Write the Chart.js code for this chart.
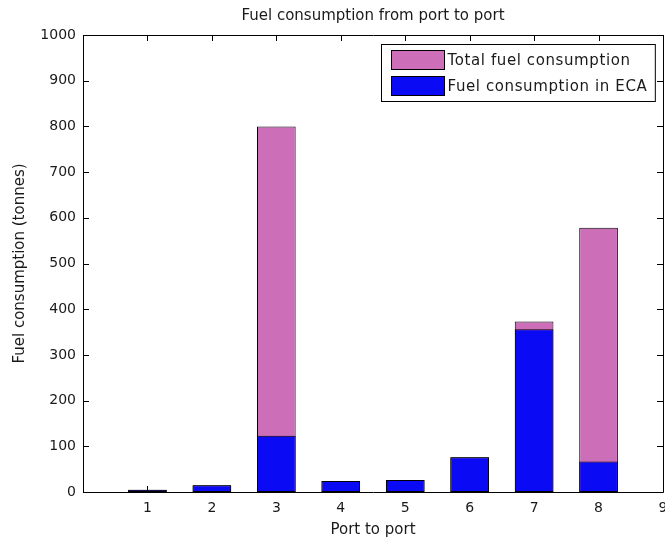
<!DOCTYPE html>
<html>
<head>
<meta charset="utf-8">
<title>Fuel consumption</title>
<script src="https://cdn.jsdelivr.net/npm/chart.js@4.4.0/dist/chart.umd.min.js"></script>
<style>
  html, body { margin: 0; padding: 0; background: #fff; }
  #wrap { width: 665px; height: 543px; }
</style>
</head>
<body>
<div id="wrap"><canvas id="fuelChart" width="665" height="543"></canvas></div>
<script>
// leg number (port to port) and fuel burnt in tonnes
const ports = [1, 2, 3, 4, 5, 6, 7, 8];
const totalFuel = [5, 15, 800, 24, 26, 76, 373, 578];
const ecaFuel = [5, 15, 123, 24, 26, 76, 356, 67];
const xTicks = [1, 2, 3, 4, 5, 6, 7, 8, 9];
const yTicks = [0, 100, 200, 300, 400, 500, 600, 700, 800, 900, 1000];

const FONT = 'DejaVu Sans';
const TEXT = '#1a1a1a';
const PINK = '#cc6eb8';
const BLUE = '#0a0af5';

// box round the plot with inward ticks (under the bars), plus a framed legend on top
const matlabAxes = {
    id: 'matlabAxes',
    beforeDatasetsDraw(chart) {
        const { ctx, chartArea: a, scales } = chart;
        const tick = 6;
        ctx.save();
        ctx.strokeStyle = '#000';
        ctx.lineWidth = 1;
        ctx.beginPath();
        ctx.rect(Math.round(a.left) + 0.5, Math.round(a.top) + 0.5,
                 Math.round(a.right - a.left), Math.round(a.bottom - a.top));
        xTicks.forEach(v => {
            const x = Math.round(scales.x.getPixelForValue(v)) + 0.5;
            ctx.moveTo(x, a.bottom); ctx.lineTo(x, a.bottom - tick);
            ctx.moveTo(x, a.top); ctx.lineTo(x, a.top + tick);
        });
        yTicks.forEach(v => {
            const y = Math.round(scales.y.getPixelForValue(v)) + 0.5;
            ctx.moveTo(a.left, y); ctx.lineTo(a.left + tick, y);
            ctx.moveTo(a.right, y); ctx.lineTo(a.right - tick, y);
        });
        ctx.stroke();
        ctx.restore();
    },
    afterDatasetsDraw(chart) {
        const { ctx, chartArea: a } = chart;
        const ds = chart.data.datasets;
        ctx.save();
        ctx.strokeStyle = '#000';
        ctx.lineWidth = 1;
        ctx.font = '15px "' + FONT + '"';
        if ('letterSpacing' in ctx) ctx.letterSpacing = '0.6px';
        const textW = Math.max(...ds.map(d => ctx.measureText(d.label).width));
        const patchW = 53, patchH = 19, rowH = 26;
        const boxW = 10 + patchW + 3 + textW + 8;
        const boxH = 57;
        const bx = Math.round(a.right - 8 - boxW) + 0.5;
        const by = Math.round(a.top + 9) + 0.5;
        ctx.fillStyle = '#fff';
        ctx.fillRect(bx, by, boxW, boxH);
        ctx.strokeRect(bx, by, boxW, boxH);
        ds.forEach((d, i) => {
            const py = by + 6 + i * rowH;
            ctx.fillStyle = d.backgroundColor;
            ctx.fillRect(bx + 10, py, patchW, patchH);
            ctx.strokeRect(bx + 10, py, patchW, patchH);
            ctx.fillStyle = TEXT;
            ctx.textBaseline = 'middle';
            ctx.textAlign = 'left';
            ctx.fillText(d.label, bx + 10 + patchW + 3, py + patchH / 2 + 1);
        });
        ctx.restore();
    }
};

const ctx = document.getElementById('fuelChart').getContext('2d');

new Chart(ctx, {
    type: 'bar',
    data: {
        datasets: [
            {
                label: 'Total fuel consumption',
                data: ports.map((p, i) => ({ x: p, y: totalFuel[i] })),
                backgroundColor: PINK,
                order: 1
            },
            {
                label: 'Fuel consumption in ECA',
                data: ports.map((p, i) => ({ x: p, y: ecaFuel[i] })),
                backgroundColor: BLUE,
                order: 0
            }
        ]
    },
    options: {
        responsive: false,
        animation: false,
        layout: { padding: { left: 0, right: 2, top: 0, bottom: 0 } },
        datasets: {
            bar: {
                grouped: false,
                barPercentage: 0.6,
                categoryPercentage: 1,
                borderColor: '#000',
                borderWidth: 1,
                borderSkipped: false
            }
        },
        scales: {
            x: {
                type: 'linear',
                offset: false,
                min: 0,
                max: 9,
                grid: { display: false, drawTicks: false, offset: false },
                border: { display: false },
                ticks: {
                    stepSize: 1,
                    padding: 8,
                    maxRotation: 0,
                    color: TEXT,
                    font: { family: FONT, size: 14 },
                    callback: v => (v === 0 ? '' : String(v))
                },
                title: {
                    display: true,
                    text: 'Port to port',
                    color: TEXT,
                    font: { family: FONT, size: 15 },
                    padding: { top: 0, bottom: 4 }
                },
                afterFit: s => { s.height = 51; s.paddingLeft = 0; s.paddingRight = 0; }
            },
            y: {
                min: 0,
                max: 1000,
                grid: { display: false, drawTicks: false },
                border: { display: false },
                ticks: {
                    stepSize: 100,
                    padding: 7,
                    color: TEXT,
                    font: { family: FONT, size: 14 },
                    callback: v => String(v)
                },
                title: {
                    display: true,
                    text: 'Fuel consumption (tonnes)',
                    color: TEXT,
                    font: { family: FONT, size: 15 },
                    padding: { top: 11, bottom: 0 }
                },
                afterFit: s => { s.width = 83; s.paddingTop = 0; s.paddingBottom = 0; }
            }
        },
        plugins: {
            legend: { display: false },
            tooltip: { enabled: false },
            title: {
                display: true,
                fullSize: false,
                text: 'Fuel consumption from port to port',
                color: TEXT,
                font: { family: FONT, size: 15, weight: 'normal' },
                padding: { top: 7, bottom: 10 }
            }
        }
    },
    plugins: [matlabAxes]
});
</script>
</body>
</html>
